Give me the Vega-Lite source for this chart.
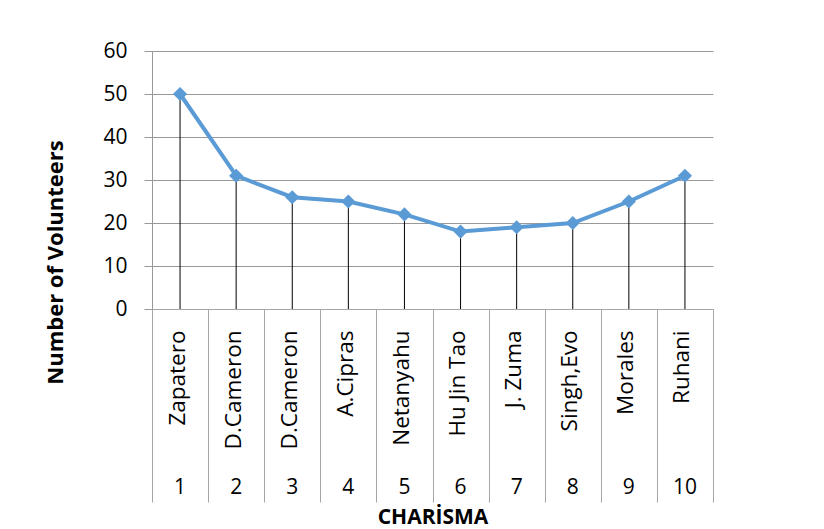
{
  "$schema": "https://vega.github.io/schema/vega-lite/v6.json",
  "width": 561,
  "height": 258,
  "autosize": {"type": "none"},
  "padding": {"left": 152, "top": 51, "right": 111, "bottom": 220},
  "background": "white",
  "data": {
    "values": [
      {"idx": 1, "name": "Zapatero", "value": 50},
      {"idx": 2, "name": "D.Cameron", "value": 31},
      {"idx": 3, "name": "D.Cameron", "value": 26},
      {"idx": 4, "name": "A.Cipras", "value": 25},
      {"idx": 5, "name": "Netanyahu", "value": 22},
      {"idx": 6, "name": "Hu Jin Tao", "value": 18},
      {"idx": 7, "name": "J. Zuma", "value": 19},
      {"idx": 8, "name": "Singh,Evo", "value": 20},
      {"idx": 9, "name": "Morales", "value": 25},
      {"idx": 10, "name": "Ruhani", "value": 31}
    ]
  },
  "transform": [
    {"calculate": "datum.idx + '|' + datum.name", "as": "category"}
  ],
  "config": {
    "font": "Open Sans",
    "view": {"stroke": null},
    "axis": {
      "labelFont": "Open Sans",
      "labelFontSize": 21,
      "labelColor": "#000000",
      "titleFont": "Open Sans",
      "titleFontSize": 21,
      "titleFontWeight": "bold",
      "titleColor": "#000000"
    }
  },
  "layer": [
    {
      "mark": {"type": "rule", "color": "#000000", "strokeWidth": 1},
      "encoding": {
        "x": {
          "field": "category",
          "type": "ordinal",
          "sort": {"field": "idx"},
          "scale": {"paddingInner": 0, "paddingOuter": 0},
          "axis": {
            "orient": "bottom",
            "title": "CHARİSMA",
            "titleX": 280.5,
            "titleY": 214,
            "titleAlign": "center",
            "titleBaseline": "alphabetic",
            "labelExpr": "split(datum.value, '|')[1]",
            "labelFontSize": 22.5,
            "labelAngle": 270,
            "labelAlign": "right",
            "labelBaseline": "middle",
            "labelPadding": -172,
            "labelOffset": -3,
            "tickBand": "extent",
            "tickSize": 193,
            "tickColor": "#A6A6A6",
            "tickWidth": 1,
            "domainColor": "#A6A6A6",
            "domainWidth": 1,
            "grid": false
          }
        },
        "y": {
          "field": "value",
          "type": "quantitative",
          "scale": {"domain": [0, 60], "nice": false},
          "axis": {
            "title": "Number of Volunteers",
            "titleFontSize": 22,
            "titleAngle": 270,
            "titleX": -97,
            "titleY": 211,
            "titleAlign": "center",
            "titleBaseline": "middle",
            "values": [0, 10, 20, 30, 40, 50, 60],
            "tickSize": 8,
            "tickColor": "#999999",
            "domainColor": "#999999",
            "grid": true,
            "gridColor": "#999999",
            "gridWidth": 1,
            "labelPadding": 17
          }
        },
        "y2": {"datum": 0}
      }
    },
    {
      "mark": {"type": "line", "color": "#5B9BD5", "strokeWidth": 4},
      "encoding": {
        "x": {
          "field": "category",
          "type": "ordinal",
          "sort": {"field": "idx"},
          "axis": {
            "orient": "bottom",
            "title": null,
            "labelExpr": "split(datum.value, '|')[0]",
            "labelAngle": 0,
            "labelAlign": "center",
            "labelBaseline": "alphabetic",
            "labelPadding": 184,
            "ticks": false,
            "domain": false,
            "grid": false
          }
        },
        "y": {"field": "value", "type": "quantitative"}
      }
    },
    {
      "mark": {"type": "point", "shape": "diamond", "filled": true, "color": "#5B9BD5", "opacity": 1, "size": 200},
      "encoding": {
        "x": {"field": "category", "type": "ordinal", "sort": {"field": "idx"}, "axis": null},
        "y": {"field": "value", "type": "quantitative"}
      }
    }
  ],
  "resolve": {"axis": {"x": "independent"}}
}
